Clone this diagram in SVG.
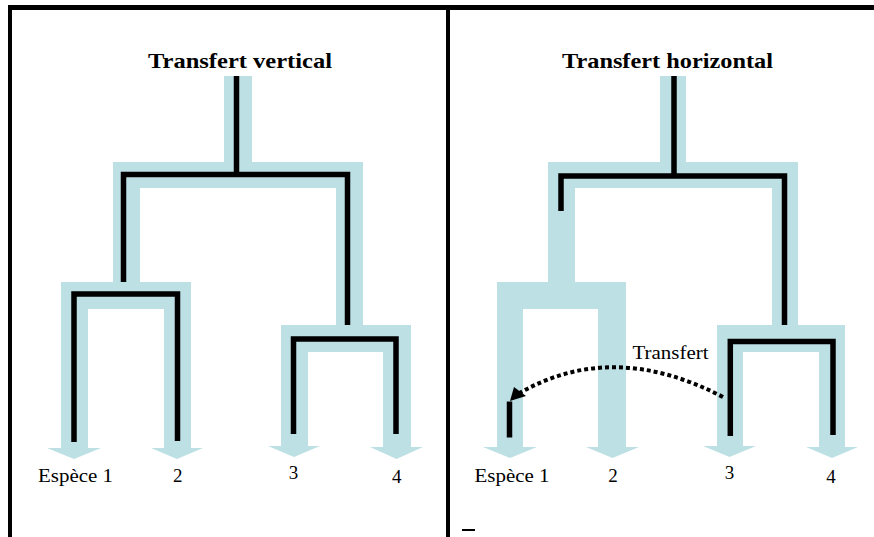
<svg xmlns="http://www.w3.org/2000/svg" width="874" height="537" viewBox="0 0 874 537">
<style>
.band{fill:#bde0e4}
.br{fill:none;stroke:#000;stroke-width:5.5;stroke-linejoin:miter;stroke-linecap:butt}
.frame{fill:#000}
text{font-family:'Liberation Serif','Times New Roman',serif;fill:#000}
.title{font-weight:bold;font-size:22px}
.lab{font-size:19px}
</style>
<rect width="874" height="537" fill="#fff"/>
<g id="frame">
<rect class="frame" x="8" y="5" width="866" height="5"/>
<rect class="frame" x="8" y="5" width="4" height="532"/>
<rect class="frame" x="446" y="5" width="4" height="532"/>
<rect class="frame" x="462" y="529" width="13" height="2"/>
</g>
<g id="panel-vertical">
<text class="title" font-family="Liberation Serif, serif" x="240" y="68" text-anchor="middle" textLength="184" lengthAdjust="spacingAndGlyphs">Transfert vertical</text>
<g id="v-root">
<rect class="band" x="224" y="76" width="28" height="87"/>
<rect class="band" x="113" y="162" width="250" height="26"/>
<rect class="band" x="113" y="162" width="27" height="120"/>
<rect class="band" x="336" y="162" width="27" height="163"/>
<path class="br" d="M236.5,76 V174.5"/>
<path class="br" d="M123.5,294 V174.5 H347.5 V339"/>
</g>
<g id="v-clade12">
<rect class="band" x="61" y="282" width="130" height="27"/>
<rect class="band" x="61" y="282" width="27" height="166"/>
<rect class="band" x="164" y="282" width="27" height="166"/>
<polygon class="band" points="47,448 101,448 74,459"/>
<polygon class="band" points="151,448 203,448 177,459"/>
<path class="br" d="M74,442 V294 H177.5 V441"/>
</g>
<g id="v-clade34">
<rect class="band" x="281" y="325" width="130" height="27"/>
<rect class="band" x="281" y="325" width="27" height="122"/>
<rect class="band" x="383" y="325" width="28" height="122"/>
<polygon class="band" points="268,446 320,446 294,457"/>
<polygon class="band" points="370,447 423,447 396.5,459"/>
<path class="br" d="M293.5,434 V339 H396 V434"/>
</g>
<g id="v-labels">
<text class="lab" font-family="Liberation Serif, serif" x="75.5" y="482" text-anchor="middle" textLength="75" lengthAdjust="spacingAndGlyphs">Espèce 1</text>
<text class="lab" font-family="Liberation Serif, serif" x="177.7" y="482" text-anchor="middle">2</text>
<text class="lab" font-family="Liberation Serif, serif" x="293.5" y="479" text-anchor="middle">3</text>
<text class="lab" font-family="Liberation Serif, serif" x="396.7" y="483" text-anchor="middle">4</text>
</g>
</g>
<g id="panel-horizontal">
<text class="title" font-family="Liberation Serif, serif" x="667.5" y="68" text-anchor="middle" textLength="211" lengthAdjust="spacingAndGlyphs">Transfert horizontal</text>
<g id="h-root">
<rect class="band" x="660" y="76" width="26" height="87"/>
<rect class="band" x="548" y="162" width="250" height="26"/>
<rect class="band" x="548" y="162" width="27" height="120"/>
<rect class="band" x="772" y="162" width="26" height="163"/>
<path class="br" d="M674,76 V176"/>
<path class="br" d="M561,211 V176 H784.5 V341.5"/>
</g>
<g id="h-clade12">
<rect class="band" x="497" y="282" width="129" height="27"/>
<rect class="band" x="497" y="282" width="26" height="165"/>
<rect class="band" x="598" y="282" width="28" height="165"/>
<polygon class="band" points="483,447 537,447 510,458"/>
<polygon class="band" points="586,447 639,447 612.5,458"/>
<path class="br" d="M509.5,401.5 V437.5"/>
</g>
<g id="h-clade34">
<rect class="band" x="717" y="325" width="128" height="27"/>
<rect class="band" x="717" y="325" width="26" height="122"/>
<rect class="band" x="819" y="325" width="26" height="122"/>
<polygon class="band" points="703,446 756,446 729.5,457"/>
<polygon class="band" points="806,447 858,447 832,458"/>
<path class="br" d="M730.3,436 V341.5 H833 V435"/>
</g>
<g id="connectors">
<path d="M723,397 Q612,339 518,394" fill="none" stroke="#000" stroke-width="4" stroke-dasharray="4 3"/>
<polygon points="510,401 514,387 526,396" fill="#000"/>
<text class="lab" font-family="Liberation Serif, serif" x="670.5" y="359" text-anchor="middle" textLength="76" lengthAdjust="spacingAndGlyphs">Transfert</text>
</g>
<g id="h-labels">
<text class="lab" font-family="Liberation Serif, serif" x="512" y="482" text-anchor="middle" textLength="75" lengthAdjust="spacingAndGlyphs">Espèce 1</text>
<text class="lab" font-family="Liberation Serif, serif" x="613" y="482" text-anchor="middle">2</text>
<text class="lab" font-family="Liberation Serif, serif" x="729.5" y="479" text-anchor="middle">3</text>
<text class="lab" font-family="Liberation Serif, serif" x="831" y="483" text-anchor="middle">4</text>
</g>
</g>
</svg>
